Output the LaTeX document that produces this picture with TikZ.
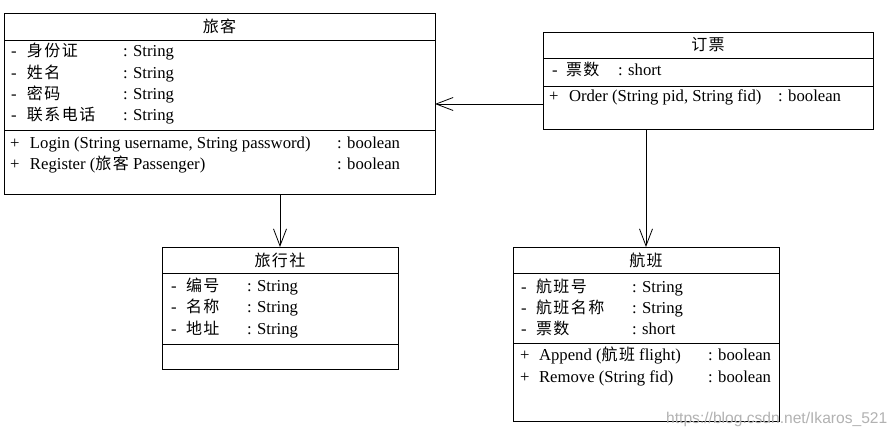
\documentclass[tikz,border=0pt]{standalone}
\usepackage{fontspec}
\setmainfont{Liberation Serif}
\newfontfamily\cjk[LetterSpace=9]{Noto Sans CJK SC}
\newfontfamily\wmfont{Liberation Sans}
\usetikzlibrary{arrows.meta}
\tikzset{
  classbox/.style={draw, line width=0.8pt, inner sep=0pt, outer sep=0pt, anchor=north west, fill=white},
  txt/.style={inner sep=0pt, outer sep=0pt, anchor=base west, font=\fontsize{16.7}{20}\selectfont},
  ctxt/.style={inner sep=0pt, outer sep=0pt, anchor=base west, font=\cjk\fontsize{16}{20}\selectfont},
  title/.style={inner sep=0pt, outer sep=0pt, font=\cjk\fontsize{16}{20}\selectfont},
  divider/.style={line width=0.8pt},
  assoc/.style={line width=0.8pt, -{Straight Barb[length=17pt,width=13pt,line width=0.8pt]}},
  wmark/.style={inner sep=0pt, anchor=base west, text=black!30, font=\wmfont\fontsize{15.6}{18}\selectfont}
}
\begin{document}
\begin{tikzpicture}[x=1pt,y=-1pt]
\useasboundingbox (0,0) rectangle (895,436);
\fill[white] (0,0) rectangle (895,436);

% ---- 旅客 ----
\node[classbox, minimum width=431pt, minimum height=181pt] (lk) at (4,13) {};
\draw[divider] ([yshift=-27pt]lk.north west) -- ([yshift=-27pt]lk.north east);
\draw[divider] ([yshift=-117pt]lk.north west) -- ([yshift=-117pt]lk.north east);
\node[title] (lkt) at ([yshift=-13.5pt]lk.north) {旅客};
\node[txt] (lka1v) at (11,57) {-};
\node[ctxt] (lka1n) at (27,57) {身份证};
\node[txt] (lka1t) at (123,57) {: String};
\node[txt] (lka2v) at (11,78.3) {-};
\node[ctxt] (lka2n) at (27,78.3) {姓名};
\node[txt] (lka2t) at (123,78.3) {: String};
\node[txt] (lka3v) at (11,99.5) {-};
\node[ctxt] (lka3n) at (27,99.5) {密码};
\node[txt] (lka3t) at (123,99.5) {: String};
\node[txt] (lka4v) at (11,120.7) {-};
\node[ctxt] (lka4n) at (27,120.7) {联系电话};
\node[txt] (lka4t) at (123,120.7) {: String};
\node[txt] (lkm1v) at (10,148) {+};
\node[txt] (lkm1n) at (30,148) {Login (String username, String password)};
\node[txt] (lkm1t) at (337,148) {: boolean};
\node[txt] (lkm2v) at (10,169) {+};
\node[txt] (lkm2n) at (30,169) {Register ({\cjk\fontsize{16}{20}\selectfont 旅客} Passenger)};
\node[txt] (lkm2t) at (337,169) {: boolean};

% ---- 订票 ----
\node[classbox, minimum width=330pt, minimum height=97pt] (dp) at (543,32) {};
\draw[divider] ([yshift=-26pt]dp.north west) -- ([yshift=-26pt]dp.north east);
\draw[divider] ([yshift=-54pt]dp.north west) -- ([yshift=-54pt]dp.north east);
\node[title] (dpt) at ([yshift=-13pt]dp.north) {订票};
\node[txt] (dpa1v) at (552,76) {-};
\node[ctxt] (dpa1n) at (566,76) {票数};
\node[txt] (dpa1t) at (618,76) {: short};
\node[txt] (dpm1v) at (549,102) {+};
\node[txt] (dpm1n) at (569,102) {Order (String pid, String fid)};
\node[txt] (dpm1t) at (778,102) {: boolean};

% ---- 旅行社 ----
\node[classbox, minimum width=236pt, minimum height=122pt] (lxs) at (162,247) {};
\draw[divider] ([yshift=-26pt]lxs.north west) -- ([yshift=-26pt]lxs.north east);
\draw[divider] ([yshift=-97pt]lxs.north west) -- ([yshift=-97pt]lxs.north east);
\node[title] (lxst) at ([yshift=-13pt]lxs.north) {旅行社};
\node[txt] (lxa1v) at (171,291) {-};
\node[ctxt] (lxa1n) at (186,291) {编号};
\node[txt] (lxa1t) at (247,291) {: String};
\node[txt] (lxa2v) at (171,312.5) {-};
\node[ctxt] (lxa2n) at (186,312.5) {名称};
\node[txt] (lxa2t) at (247,312.5) {: String};
\node[txt] (lxa3v) at (171,334) {-};
\node[ctxt] (lxa3n) at (186,334) {地址};
\node[txt] (lxa3t) at (247,334) {: String};

% ---- 航班 ----
\node[classbox, minimum width=266pt, minimum height=174pt] (hb) at (513,247) {};
\draw[divider] ([yshift=-26pt]hb.north west) -- ([yshift=-26pt]hb.north east);
\draw[divider] ([yshift=-96pt]hb.north west) -- ([yshift=-96pt]hb.north east);
\node[title] (hbt) at ([yshift=-13pt]hb.north) {航班};
\node[txt] (hba1v) at (521,292) {-};
\node[ctxt] (hba1n) at (536,292) {航班号};
\node[txt] (hba1t) at (632,292) {: String};
\node[txt] (hba2v) at (521,313) {-};
\node[ctxt] (hba2n) at (536,313) {航班名称};
\node[txt] (hba2t) at (632,313) {: String};
\node[txt] (hba3v) at (521,334) {-};
\node[ctxt] (hba3n) at (536,334) {票数};
\node[txt] (hba3t) at (632,334) {: short};
\node[txt] (hbm1v) at (520,360) {+};
\node[txt] (hbm1n) at (539,360) {Append ({\cjk\fontsize{16}{20}\selectfont 航班} flight)};
\node[txt] (hbm1t) at (708,360) {: boolean};
\node[txt] (hbm2v) at (520,382) {+};
\node[txt] (hbm2n) at (539,382) {Remove (String fid)};
\node[txt] (hbm2t) at (708,382) {: boolean};

% ---- connectors ----
\coordinate (c1) at ([yshift=-23.5pt]dp.west);
\draw[assoc] (c1) -- (c1 -| lk.east);
\draw[assoc] (lk.south -| lxs.north) -- (lxs.north);
\draw[assoc] (dp.south -| hb.north) -- (hb.north);

% ---- watermark ----
\node[wmark] (wm) at (666,423) {https://blog.csdn.net/Ikaros\_521};
\end{tikzpicture}
\end{document}
